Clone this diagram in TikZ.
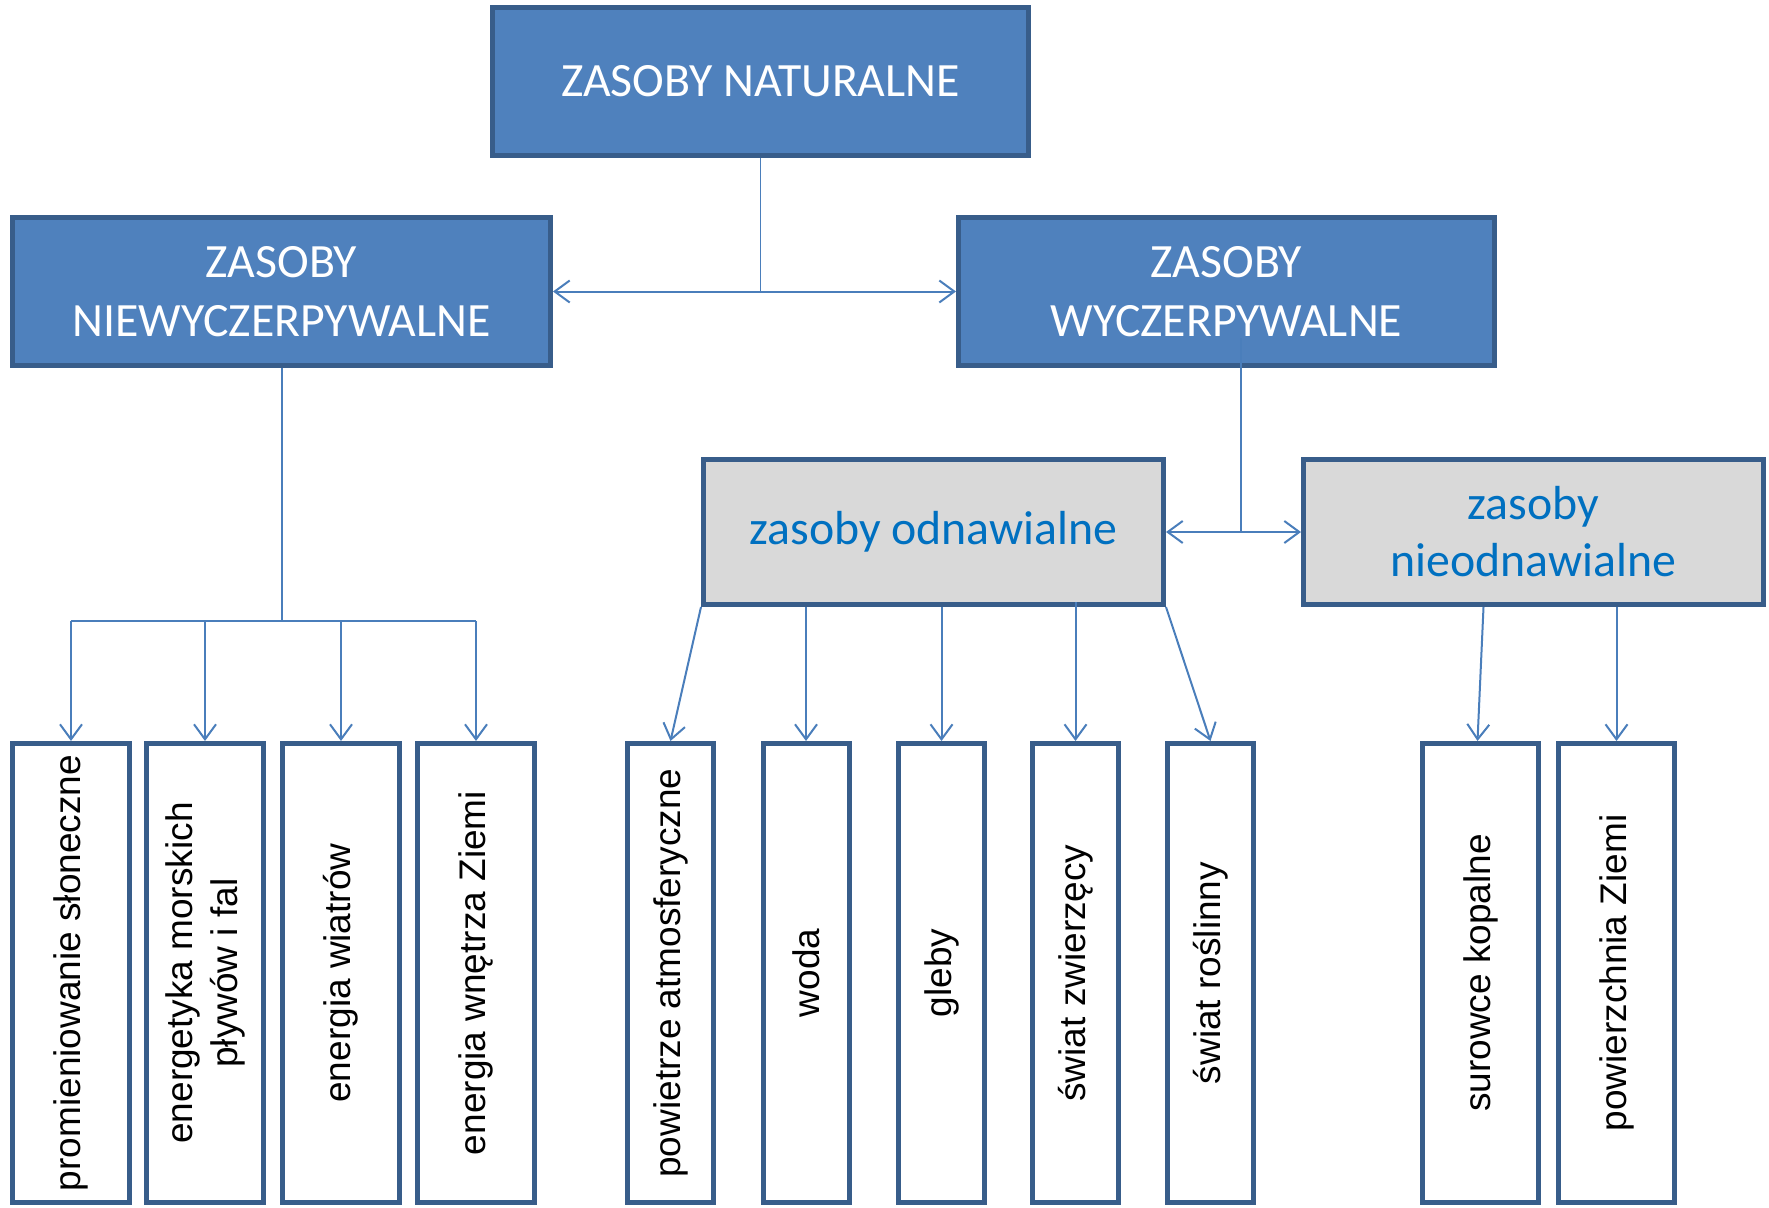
\documentclass[tikz,border=0pt]{standalone}
\usepackage{fontspec}
\setmainfont{Carlito}
\newfontfamily\arialf{Liberation Sans}
\usetikzlibrary{arrows.meta,calc}
\definecolor{boxblue}{HTML}{4F81BD}
\definecolor{boxedge}{HTML}{385D8A}
\definecolor{linkblue}{HTML}{4A7EBB}
\definecolor{greyfill}{HTML}{D9D9D9}
\definecolor{txtblue}{HTML}{0070C0}
\begin{document}
\begin{tikzpicture}[x=1pt,y=-1pt,
  topbox/.style={draw=boxedge, line width=5pt, fill=boxblue, text=white, minimum width=536pt, minimum height=148pt, inner sep=0pt, align=center, font=\fontsize{47.8}{59}\selectfont},
  midbox/.style={draw=boxedge, line width=5pt, fill=greyfill, text=txtblue, minimum width=460pt, minimum height=145pt, inner sep=0pt, align=center, font=\fontsize{47.8}{57}\selectfont},
  leaf/.style={draw=boxedge, line width=5pt, fill=white, minimum height=459pt, inner sep=0pt},
  leafL/.style={leaf, minimum width=117pt},
  leafM/.style={leaf, minimum width=86pt},
  leafR/.style={leaf, minimum width=116pt},
  leaftext/.style={rotate=90, align=center, inner sep=0pt, font=\arialf\fontsize{37}{45}\selectfont, text=black},
  link/.style={draw=linkblue, line width=2pt},
  arr/.style={link, -{Straight Barb[length=15pt,width=22pt]}},
  darr/.style={link, {Straight Barb[length=15pt,width=22pt]}-{Straight Barb[length=15pt,width=22pt]}},
]
\useasboundingbox (0,0) rectangle (1769,1207);

% top level
\node[topbox] (nat) at (760.5,81.5) {ZASOBY NATURALNE};
\node[topbox, minimum width=538pt] (niew) at (281.5,291.5) {ZASOBY\\NIEWYCZERPYWALNE};
\node[topbox] (wycz) at (1226.5,291.5) {ZASOBY\\WYCZERPYWALNE};

% second level
\node[midbox] (odn) at (933.5,532) {zasoby odnawialne};
\node[midbox] (nieodn) at (1533.5,532) {zasoby\\nieodnawialne};

% leaves
\node[leafL] (b1) at (71,973) {};
\node[leafL] (b2) at (205,973) {};
\node[leafL] (b3) at (341,973) {};
\node[leafL] (b4) at (476,973) {};
\node[leafM] (b5) at (670.5,973) {};
\node[leafM] (b6) at (806,973) {};
\node[leafM] (b7) at (941.5,973) {};
\node[leafM] (b8) at (1075.5,973) {};
\node[leafM] (b9) at (1210.5,973) {};
\node[leafR] (b10) at (1480.5,973) {};
\node[leafR] (b11) at (1616.5,973) {};

\node[leaftext] (t1) at (b1.center) {promieniowanie słoneczne};
\node[leaftext] (t2) at (b2.center) {energetyka morskich\\pływów i fal};
\node[leaftext] (t3) at (b3.center) {energia wiatrów};
\node[leaftext] (t4) at (b4.center) {energia wnętrza Ziemi};
\node[leaftext] (t5) at (b5.center) {powietrze atmosferyczne};
\node[leaftext] (t6) at (b6.center) {woda};
\node[leaftext] (t7) at (b7.center) {gleby};
\node[leaftext] (t8) at (b8.center) {świat zwierzęcy};
\node[leaftext] (t9) at (b9.center) {świat roślinny};
\node[leaftext] (t10) at (b10.center) {surowce kopalne};
\node[leaftext] (t11) at (b11.center) {powierzchnia Ziemi};

% connectors: top
\draw[darr] (niew.east) -- (wycz.west);
\draw[link, line width=1.5pt] (nat.south) -- (nat.south |- niew.east);

% left branch
\coordinate (split) at (281.5,621);
\draw[link] (niew.south) -- (split);
\draw[link] (b1.north |- split) -- (b4.north |- split);
\foreach \b in {b1,b2,b3,b4}{
  \draw[arr] (\b.north |- split) -- (\b.north);
}

% right branch
\coordinate (wyczdrop) at (1241,338);
\draw[link] (wyczdrop) -- (wyczdrop |- odn.east);
\draw[darr] (odn.east) -- (nieodn.west);

% renewable leaves
\draw[arr] (odn.south west) -- (b5.north);
\draw[arr] (b6.north |- odn.south) -- (b6.north);
\draw[arr] (b7.north |- odn.south) -- (b7.north);
\draw[arr] ($(b8.north |- odn.south)+(0,-5)$) -- (b8.north);
\draw[arr] (odn.south east) -- (b9.north);

% non-renewable leaves
\draw[arr] ($(b10.north |- nieodn.south)+(3,0)$) -- ($(b10.north)+(-3,0)$);
\draw[arr] (b11.north |- nieodn.south) -- (b11.north);
\end{tikzpicture}
\end{document}
